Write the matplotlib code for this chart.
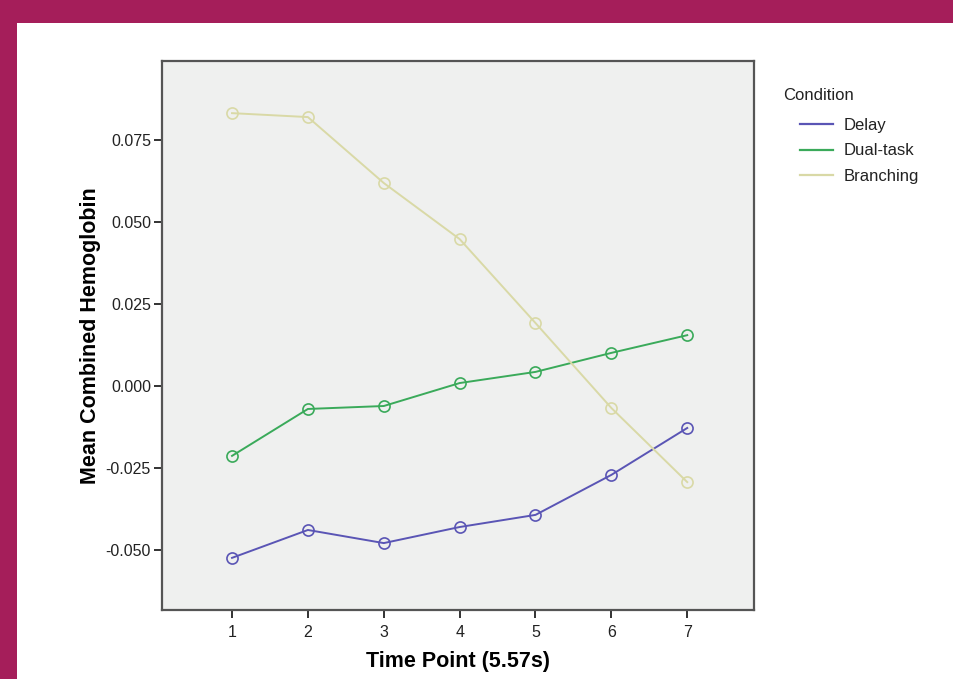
import matplotlib
matplotlib.use("Agg")
import matplotlib.pyplot as plt
from matplotlib.patches import Rectangle
from matplotlib.lines import Line2D

plt.rcParams["font.family"] = ["Liberation Sans", "DejaVu Sans"]

time_points = [1, 2, 3, 4, 5, 6, 7]
delay = [-0.0524, -0.0439, -0.0479, -0.0430, -0.0393, -0.0271, -0.0128]
dual_task = [-0.0213, -0.0070, -0.0061, 0.0009, 0.0043, 0.0101, 0.0155]
branching = [0.0832, 0.0820, 0.0619, 0.0448, 0.0192, -0.0067, -0.0293]
series_names = ["Delay", "Dual-task", "Branching"]
y_ticks = [-0.050, -0.025, 0.000, 0.025, 0.050, 0.075]

colors = ["#5a55b5", "#3aaa5a", "#d9d9a6"]

W, H = 954, 679
fig = plt.figure(figsize=(W / 100, H / 100), dpi=100)
fig.patch.set_facecolor("white")

# magenta border
border = "#a51e5a"
fig.patches.append(Rectangle((0, 1 - 23 / H), 1, 23 / H, transform=fig.transFigure,
                             facecolor=border, edgecolor="none", zorder=0))
fig.patches.append(Rectangle((0, 0), 17 / W, 1, transform=fig.transFigure,
                             facecolor=border, edgecolor="none", zorder=0))

left, right, top, bottom = 162, 754, 61, 610
ax = fig.add_axes([left / W, 1 - bottom / H, (right - left) / W, (bottom - top) / H])
ax.set_facecolor("#eff0ef")

for vals, c in zip([delay, dual_task, branching], colors):
    ax.plot(time_points, vals, color=c, lw=1.4, marker="o", markersize=8,
            markerfacecolor="none", markeredgecolor=c, markeredgewidth=1.2)

ax.set_xlim(0.077, 7.88)
ax.set_ylim(-0.0683, 0.0991)
ax.set_xticks(time_points)
ax.set_xticklabels([str(t) for t in time_points])
ax.set_yticks(y_ticks)
ax.set_yticklabels([f"{v:.3f}" for v in y_ticks])

for s in ax.spines.values():
    s.set_color("#555555")
    s.set_linewidth(1.6)

ax.tick_params(axis="both", direction="out", length=6, width=1.3, color="#222222",
               labelsize=11.5, labelcolor="#222222")
ax.tick_params(axis="y", pad=2)
ax.tick_params(axis="x", pad=5)

ax.set_xlabel("Time Point (5.57s)", fontsize=15.5, fontweight="bold", labelpad=8)
ax.set_ylabel("Mean Combined Hemoglobin", fontsize=15.5, fontweight="bold", labelpad=3)

fig.text(783 / W, 1 - 96 / H, "Condition", fontsize=12, color="#222222",
         ha="left", va="center")
handles = [Line2D([], [], color=c, lw=1.6) for c in colors]
leg = fig.legend(handles, series_names, loc="upper left",
                 bbox_to_anchor=(800 / W, 1 - 118 / H), frameon=False,
                 fontsize=12, handlelength=2.0,
                 handletextpad=0.6, labelspacing=0.62, borderaxespad=0,
                 borderpad=0)
for t in leg.get_texts():
    t.set_color("#222222")

fig.savefig("out.png", dpi=100)
